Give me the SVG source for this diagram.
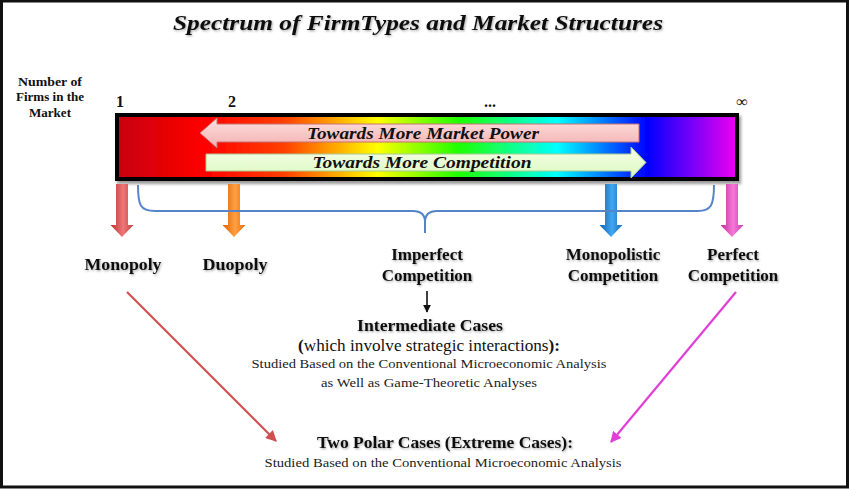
<svg xmlns="http://www.w3.org/2000/svg" width="850" height="489" viewBox="0 0 850 489">
<defs>
<style>
.t{font-family:"Liberation Serif",serif;fill:#111;}
.lab{font-family:"Liberation Serif",serif;font-weight:bold;font-size:17px;fill:#111;text-anchor:middle;}
.sm{font-family:"Liberation Serif",serif;font-size:13.5px;fill:#222;text-anchor:middle;}
.num{font-family:"Liberation Serif",serif;font-weight:bold;font-size:16px;fill:#111;text-anchor:middle;}
.nf{font-family:"Liberation Serif",serif;font-weight:bold;font-size:12.5px;fill:#111;text-anchor:middle;}
.bi{font-family:"Liberation Serif",serif;font-weight:bold;font-style:italic;fill:#111;text-anchor:middle;}
</style>
<filter id="ts" x="-10%" y="-30%" width="120%" height="160%">
<feDropShadow dx="1" dy="1.2" stdDeviation="0.8" flood-color="#000" flood-opacity="0.35"/>
</filter>
<filter id="bs" x="-5%" y="-10%" width="110%" height="130%">
<feDropShadow dx="2" dy="3" stdDeviation="1.5" flood-color="#000" flood-opacity="0.4"/>
</filter>
<linearGradient id="spec" x1="0" y1="0" x2="1" y2="0">
<stop offset="0" stop-color="#c8000c"/>
<stop offset="0.14" stop-color="#ff0000"/>
<stop offset="0.27" stop-color="#ff4000"/>
<stop offset="0.42" stop-color="#ffff00"/>
<stop offset="0.55" stop-color="#20ff00"/>
<stop offset="0.71" stop-color="#00ffff"/>
<stop offset="0.855" stop-color="#0000ff"/>
<stop offset="1" stop-color="#f000f0"/>
</linearGradient>
<linearGradient id="pink" x1="0" y1="0" x2="0" y2="1">
<stop offset="0" stop-color="#fde0e0"/>
<stop offset="1" stop-color="#f4b0b0"/>
</linearGradient>
<linearGradient id="green" x1="0" y1="0" x2="0" y2="1">
<stop offset="0" stop-color="#f6ffe8"/>
<stop offset="1" stop-color="#dcf8c0"/>
</linearGradient>
<linearGradient id="gRed" x1="0" y1="0" x2="1" y2="0">
<stop offset="0" stop-color="#b83030"/><stop offset="0.55" stop-color="#f07878"/><stop offset="1" stop-color="#c04040"/>
</linearGradient>
<linearGradient id="gOr" x1="0" y1="0" x2="1" y2="0">
<stop offset="0" stop-color="#e06000"/><stop offset="0.55" stop-color="#ffa040"/><stop offset="1" stop-color="#e86a10"/>
</linearGradient>
<linearGradient id="gBl" x1="0" y1="0" x2="1" y2="0">
<stop offset="0" stop-color="#1060b0"/><stop offset="0.55" stop-color="#40a8f0"/><stop offset="1" stop-color="#1868b8"/>
</linearGradient>
<linearGradient id="gMg" x1="0" y1="0" x2="1" y2="0">
<stop offset="0" stop-color="#c02898"/><stop offset="0.55" stop-color="#f878d8"/><stop offset="1" stop-color="#c83ca8"/>
</linearGradient>
<path id="dn" d="M-6,0 L6,0 L6,41 L11.5,41 L0,53 L-11.5,41 L-6,41 Z"/>
<marker id="mRed" viewBox="0 0 10 10" refX="9" refY="5" markerWidth="5" markerHeight="5" orient="auto">
<path d="M0,0 L10,5 L0,10 Z" fill="#d05050"/>
</marker>
<marker id="mMg" viewBox="0 0 10 10" refX="9" refY="5" markerWidth="5" markerHeight="5" orient="auto">
<path d="M0,0 L10,5 L0,10 Z" fill="#e040d8"/>
</marker>
<marker id="mBk" viewBox="0 0 10 10" refX="9" refY="5" markerWidth="5" markerHeight="5" orient="auto">
<path d="M0,0 L10,5 L0,10 Z" fill="#111"/>
</marker>
</defs>
<rect x="0" y="0" width="850" height="489" fill="#fff"/>
<rect x="1.5" y="1" width="846" height="486" fill="none" stroke="#111" stroke-width="3"/>

<g id="title">
<text class="bi" x="418" y="30" font-size="22" textLength="490" lengthAdjust="spacingAndGlyphs" filter="url(#ts)">Spectrum of FirmTypes and Market Structures</text>
</g>

<g id="numbers">
<text class="nf" x="50" y="86" textLength="64" lengthAdjust="spacingAndGlyphs">Number of</text>
<text class="nf" x="50" y="101" textLength="68" lengthAdjust="spacingAndGlyphs">Firms in the</text>
<text class="nf" x="50" y="117" textLength="42" lengthAdjust="spacingAndGlyphs">Market</text>
<text class="num" x="120" y="107">1</text>
<text class="num" x="232" y="107">2</text>
<text class="num" x="490" y="107">...</text>
<text class="num" x="742" y="107">∞</text>
</g>

<g id="spectrum">
<rect x="117" y="115" width="620" height="64" fill="url(#spec)" stroke="#000" stroke-width="4" filter="url(#bs)"/>
</g>

<g id="power-arrow">
<path d="M200,133 L217,118 L217,124 L639,124 L639,142 L217,142 L217,148 Z" fill="url(#pink)" stroke="#c87070" stroke-width="1"/>
<text class="bi" x="423" y="139" font-size="16.5" textLength="232" lengthAdjust="spacingAndGlyphs">Towards More Market Power</text>
</g>

<g id="competition-arrow">
<path d="M206,154 L631,154 L631,147 L646,162.5 L631,178 L631,171 L206,171 Z" fill="url(#green)" stroke="#a8c890" stroke-width="1"/>
<text class="bi" x="422" y="168" font-size="16.5" textLength="219" lengthAdjust="spacingAndGlyphs">Towards More Competition</text>
</g>

<g id="connectors">
<use href="#dn" x="122" y="184" fill="url(#gRed)"/>
<use href="#dn" x="234" y="184" fill="url(#gOr)"/>
<use href="#dn" x="611" y="184" fill="url(#gBl)"/>
<use href="#dn" x="732" y="184" fill="url(#gMg)"/>
<path d="M138,185 C138,205 140,211 155,211 L413,211 C421,211 425,214 425,222 L425,233 M425,222 C425,214 429,211 437,211 L698,211 C711,211 714,205 714,185" fill="none" stroke="#5585c8" stroke-width="2"/>
<line x1="427" y1="291" x2="427" y2="312" stroke="#111" stroke-width="1.6" marker-end="url(#mBk)"/>
<line x1="127" y1="292" x2="276" y2="441" stroke="#d05050" stroke-width="2.2" marker-end="url(#mRed)"/>
<line x1="736" y1="292" x2="611" y2="442" stroke="#e040d8" stroke-width="2.2" marker-end="url(#mMg)"/>
</g>

<g id="monopoly" filter="url(#ts)">
<text class="lab" x="123" y="270" textLength="77" lengthAdjust="spacingAndGlyphs">Monopoly</text>
</g>
<g id="duopoly" filter="url(#ts)">
<text class="lab" x="235" y="270" textLength="65" lengthAdjust="spacingAndGlyphs">Duopoly</text>
</g>
<g id="imperfect" filter="url(#ts)">
<text class="lab" x="427" y="260">Imperfect</text>
<text class="lab" x="427" y="281">Competition</text>
</g>
<g id="monopolistic" filter="url(#ts)">
<text class="lab" x="613" y="260">Monopolistic</text>
<text class="lab" x="613" y="281">Competition</text>
</g>
<g id="perfect" filter="url(#ts)">
<text class="lab" x="733" y="260">Perfect</text>
<text class="lab" x="733" y="281">Competition</text>
</g>

<g id="intermediate">
<text class="lab" x="430" y="331" textLength="146" lengthAdjust="spacingAndGlyphs" filter="url(#ts)">Intermediate Cases</text>
<text class="t" x="429" y="351" font-size="17" text-anchor="middle" textLength="262" lengthAdjust="spacingAndGlyphs"><tspan font-weight="bold">(</tspan>which involve strategic interactions<tspan font-weight="bold">):</tspan></text>
<text class="sm" x="429" y="368" textLength="355" lengthAdjust="spacingAndGlyphs">Studied Based on the Conventional Microeconomic Analysis</text>
<text class="sm" x="429" y="387" textLength="216" lengthAdjust="spacingAndGlyphs">as Well as Game-Theoretic Analyses</text>
</g>

<g id="polar">
<text class="lab" x="445" y="448" textLength="256" lengthAdjust="spacingAndGlyphs" filter="url(#ts)">Two Polar Cases (Extreme Cases):</text>
<text class="sm" x="443" y="467" textLength="357" lengthAdjust="spacingAndGlyphs">Studied Based on the Conventional Microeconomic Analysis</text>
</g>
</svg>
